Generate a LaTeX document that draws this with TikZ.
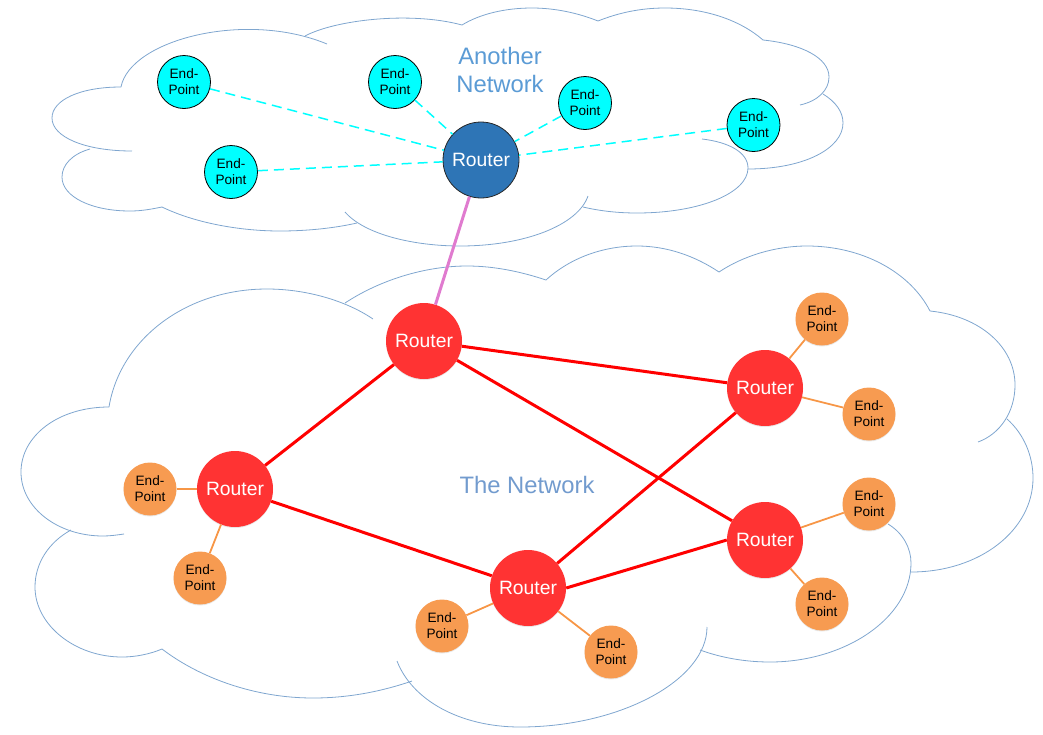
\documentclass[tikz,border=0pt]{standalone}
\usepackage{fontspec}
\setmainfont{Liberation Sans}
\usetikzlibrary{shadows}
\definecolor{cloudblue}{HTML}{7FA6CF}
\definecolor{routerred}{HTML}{FF3333}
\definecolor{routerblue}{HTML}{2E75B6}
\definecolor{endorange}{HTML}{F79B51}
\definecolor{endcyan}{HTML}{00FFFF}
\definecolor{linkred}{HTML}{FF0000}
\definecolor{linkorange}{HTML}{F79646}
\definecolor{linkpink}{HTML}{E07BCF}
\definecolor{titleblue}{HTML}{5B9BD5}
\definecolor{titlegrey}{HTML}{729BCE}
\tikzset{
    softshadow/.style={drop shadow={shadow xshift=0pt,shadow yshift=-1pt,opacity=0.18}},
    routernode/.style={circle,inner sep=0pt,minimum size=76pt,text=white,align=center,font=\fontsize{19.3}{23}\selectfont},
    endnode/.style={circle,inner sep=0pt,minimum size=53pt,text=black,align=center,font=\fontsize{13.6}{16}\selectfont},
    redrouter/.style={routernode,fill=routerred,softshadow},
    bluerouter/.style={routernode,fill=routerblue,draw=black!85,line width=0.8pt},
    orangeend/.style={endnode,fill=endorange,softshadow},
    cyanend/.style={endnode,fill=endcyan,draw=black,line width=0.8pt},
    cloudline/.style={draw=cloudblue,line width=0.8pt},
    redlink/.style={draw=linkred,line width=3pt},
    orangelink/.style={draw=linkorange,line width=1.8pt},
    cyanlink/.style={draw=endcyan,line width=1.5pt,dash pattern=on 10pt off 6pt},
    pinklink/.style={draw=linkpink,line width=3pt},
}
\begin{document}
\begin{tikzpicture}[x=1pt,y=-1pt]
    \useasboundingbox(0,0)rectangle(1043,734);
    % upper cloud
    \draw[cloudline](305,36)..controls(335,20)and(410,11)..(462,25);
    \draw[cloudline](121,87)..controls(130,40)and(245,10)..(327,44);
    \draw[cloudline](121,87)..controls(80,87)and(52,100)..(52,118)..controls(52,137)and(85,151)..(132,151);
    \draw[cloudline](90,149)..controls(72,154)and(62,165)..(62,177)..controls(62,197)and(92,211)..(130,211)..controls(142,211)and(152,209)..(162,207);
    \draw[cloudline](162,207)..controls(195,223)and(240,231)..(280,231)..controls(308,231)and(335,228)..(357,223);
    \draw[cloudline](345,212)..controls(365,235)and(415,246)..(460,246)..controls(525,246)and(578,225)..(588,196);
    \draw[cloudline](583,207)..controls(600,211)and(618,213)..(637,213)..controls(700,213)and(748,193)..(748,168)..controls(748,152)and(728,142)..(702,139);
    \draw[cloudline](748,169)..controls(805,169)and(843,148)..(843,123)..controls(843,112)and(836,102)..(823,94);
    \draw[cloudline](800,105)..controls(818,101)and(829,90)..(829,77)..controls(829,58)and(802,44)..(763,40);
    \draw[cloudline](763,40)..controls(740,20)and(705,8)..(665,8)..controls(640,8)and(618,13)..(598,21);
    \draw[cloudline](598,21)..controls(578,13)and(555,8)..(532,8)..controls(505,8)and(480,14)..(462,25);
    % lower cloud
    \draw[cloudline](345,303)..controls(380,280)and(425,266)..(467,266)..controls(495,266)and(522,272)..(546,280);
    \draw[cloudline](546,280)..controls(570,258)and(603,246)..(637,246)..controls(667,246)and(695,256)..(719,272);
    \draw[cloudline](719,272)..controls(743,256)and(775,246)..(807,246)..controls(862,246)and(910,272)..(930,311);
    \draw[cloudline](930,311)..controls(980,316)and(1015,347)..(1015,385)..controls(1015,412)and(1000,434)..(978,442);
    \draw[cloudline](1007,419)..controls(1024,434)and(1033,456)..(1033,478)..controls(1033,530)and(980,572)..(911,572);
    \draw[cloudline](888,524)..controls(903,533)and(911,548)..(911,563)..controls(911,618)and(845,662)..(770,662)..controls(746,662)and(722,658)..(700,650);
    \draw[cloudline](707,627)..controls(707,680)and(620,727)..(520,727)..controls(460,727)and(412,700)..(397,661);
    \draw[cloudline](412,681)..controls(380,692)and(347,698)..(313,698)..controls(255,698)and(200,678)..(162,649);
    \draw[cloudline](162,649)..controls(150,654)and(136,657)..(122,657)..controls(75,657)and(35,625)..(35,587)..controls(35,563)and(49,542)..(71,530);
    \draw[cloudline](124,534)..controls(117,535)and(110,536)..(103,536)..controls(58,536)and(21,508)..(21,472)..controls(21,436)and(58,407)..(109,407);
    \draw[cloudline](109,407)..controls(120,340)and(185,289)..(267,289)..controls(305,289)and(345,300)..(373,319);
    % titles
    \node[text=titleblue,align=center,font=\fontsize{23.8}{28}\selectfont](anothertitle) at (500,70){Another\\Network};
    \node[text=titlegrey,font=\fontsize{23.8}{28}\selectfont](networktitle) at (527,485){The Network};
    % routers
    \node[bluerouter](rblue) at (481,160){Router};
    \node[redrouter](rtop) at (424,341){Router};
    \node[redrouter](rleft) at (235,489){Router};
    \node[redrouter](rupper) at (765,388){Router};
    \node[redrouter](rlower) at (765,540){Router};
    \node[redrouter](rbottom) at (528,588){Router};
    % end points
    \node[cyanend](ca) at (184,82){End-\\Point};
    \node[cyanend](cb) at (395,82){End-\\Point};
    \node[cyanend](cc) at (231,172){End-\\Point};
    \node[cyanend](cd) at (585,103){End-\\Point};
    \node[cyanend](ce) at (753.5,125){End-\\Point};
    \node[orangeend](oa) at (150,489){End-\\Point};
    \node[orangeend](ob) at (200,578){End-\\Point};
    \node[orangeend](oc) at (442,626){End-\\Point};
    \node[orangeend](od) at (611,652){End-\\Point};
    \node[orangeend](oe) at (822,319){End-\\Point};
    \node[orangeend](of) at (869,414){End-\\Point};
    \node[orangeend](og) at (869,504){End-\\Point};
    \node[orangeend](oh) at (822,604){End-\\Point};
    % links
    \draw[cyanlink](ca)--(rblue);
    \draw[cyanlink](cb)--(rblue);
    \draw[cyanlink](cc)--(rblue);
    \draw[cyanlink](cd)--(rblue);
    \draw[cyanlink](ce)--(rblue);
    \draw[pinklink](rblue)--(rtop);
    \draw[redlink](rtop)--(rleft);
    \draw[redlink](rtop)--(rupper);
    \draw[redlink](rtop)--(rlower);
    \draw[redlink](rleft)--(rbottom);
    \draw[redlink](rbottom)--(rupper);
    \draw[redlink](rbottom.east)--(rlower.west);
    \draw[orangelink](oa)--(rleft);
    \draw[orangelink](ob)--(rleft);
    \draw[orangelink](oc)--(rbottom);
    \draw[orangelink](od)--(rbottom);
    \draw[orangelink](oe)--(rupper);
    \draw[orangelink](of)--(rupper);
    \draw[orangelink](og)--(rlower);
    \draw[orangelink](oh)--(rlower);
\end{tikzpicture}
\end{document}
